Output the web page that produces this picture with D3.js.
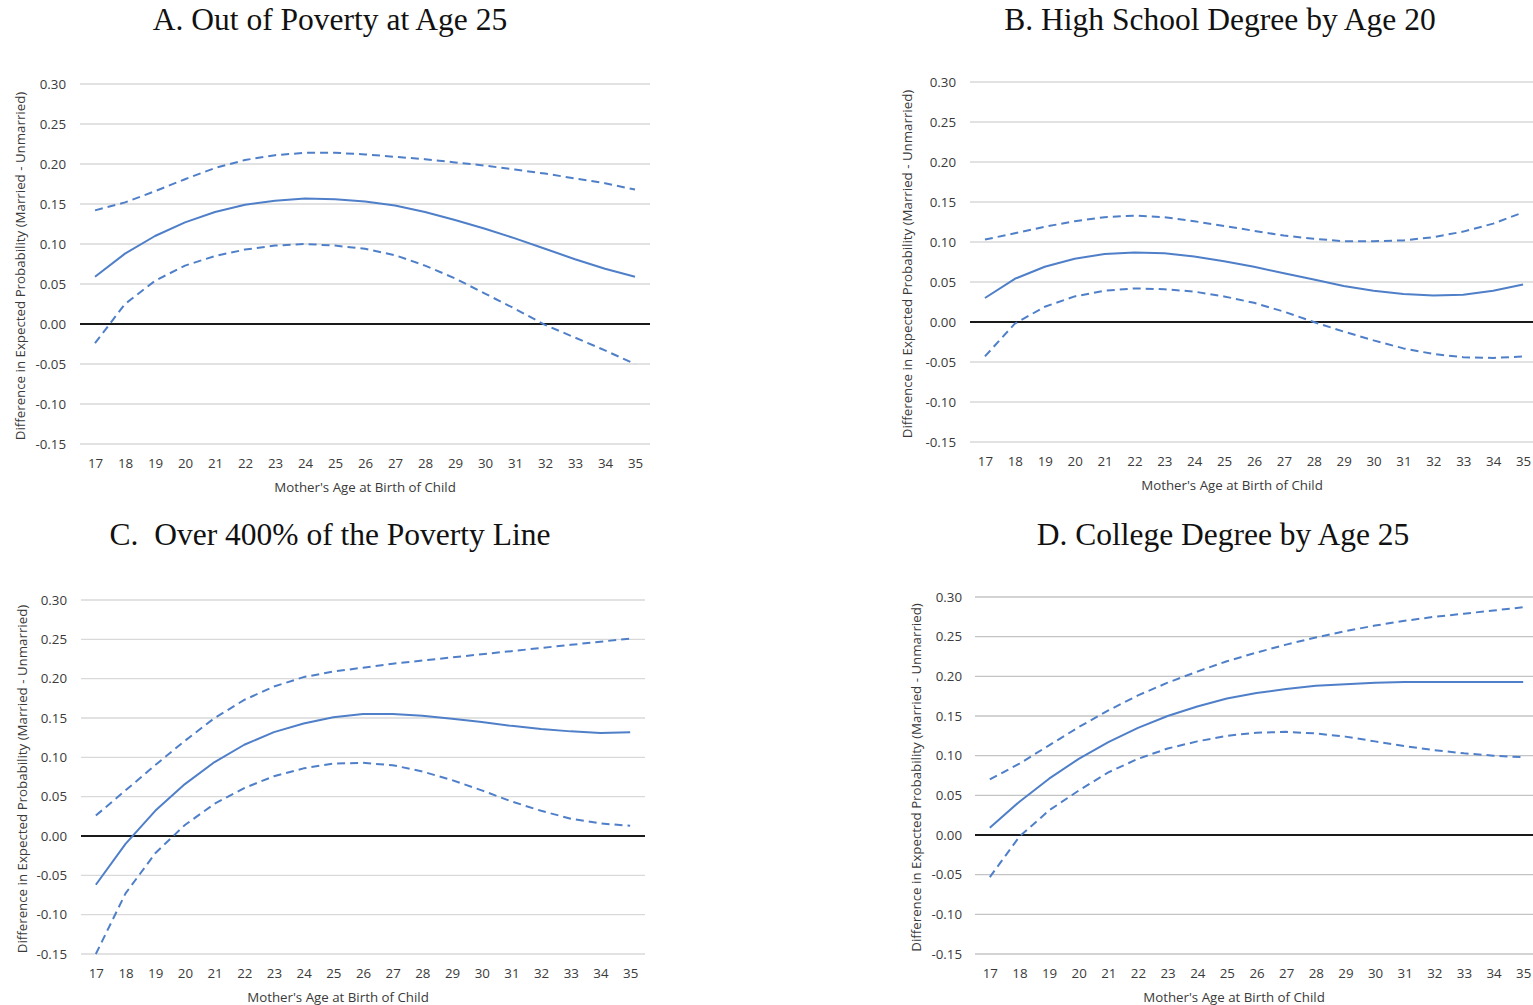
<!DOCTYPE html>
<html>
<head>
<meta charset="utf-8">
<script src="https://cdn.jsdelivr.net/npm/d3@7"></script>
<style>
  html, body { margin: 0; padding: 0; background: #fff; }
  svg { display: block; }
</style>
</head>
<body>
<svg id="chart" width="1533" height="1005"></svg>
<script>
// Mother's age at birth of child (x categories)
const ages = [17, 18, 19, 20, 21, 22, 23, 24, 25, 26, 27, 28, 29, 30, 31, 32, 33, 34, 35];
const yTicks = [0.30, 0.25, 0.20, 0.15, 0.10, 0.05, 0.00, -0.05, -0.10, -0.15];

const titleA = "A. Out of Poverty at Age 25";
const titleB = "B. High School Degree by Age 20";
const titleC = "C.\u00a0 Over 400% of the Poverty Line";
const titleD = "D. College Degree by Age 25";
const yTitle = "Difference in Expected Probability (Married - Unmarried)";
const xTitle = "Mother's Age at Birth of Child";

// A. Out of poverty at age 25
const povEst   = [0.059, 0.088, 0.110, 0.127, 0.140, 0.149, 0.154, 0.157, 0.156, 0.153, 0.148, 0.140, 0.130, 0.119, 0.107, 0.094, 0.081, 0.069, 0.059];
const povUpper = [0.142, 0.152, 0.166, 0.181, 0.195, 0.205, 0.211, 0.214, 0.214, 0.212, 0.209, 0.206, 0.202, 0.198, 0.193, 0.188, 0.182, 0.176, 0.168];
const povLower = [-0.024, 0.025, 0.054, 0.073, 0.085, 0.093, 0.098, 0.100, 0.098, 0.094, 0.086, 0.073, 0.057, 0.038, 0.019, -0.001, -0.017, -0.033, -0.050];

// B. High school degree by age 20
const hsEst   = [0.030, 0.054, 0.069, 0.079, 0.085, 0.087, 0.086, 0.082, 0.076, 0.069, 0.061, 0.053, 0.045, 0.039, 0.035, 0.033, 0.034, 0.039, 0.047];
const hsUpper = [0.103, 0.111, 0.119, 0.126, 0.131, 0.133, 0.131, 0.126, 0.120, 0.114, 0.108, 0.104, 0.101, 0.101, 0.102, 0.106, 0.113, 0.123, 0.137];
const hsLower = [-0.043, -0.002, 0.019, 0.032, 0.039, 0.042, 0.041, 0.038, 0.032, 0.024, 0.013, 0.000, -0.012, -0.023, -0.033, -0.040, -0.044, -0.045, -0.043];

// C. Over 400% of the poverty line
const richEst   = [-0.062, -0.010, 0.032, 0.066, 0.094, 0.116, 0.132, 0.143, 0.151, 0.155, 0.155, 0.153, 0.149, 0.145, 0.140, 0.136, 0.133, 0.131, 0.132];
const richUpper = [0.026, 0.058, 0.090, 0.121, 0.150, 0.173, 0.190, 0.202, 0.209, 0.214, 0.219, 0.223, 0.227, 0.231, 0.235, 0.239, 0.243, 0.247, 0.251];
const richLower = [-0.150, -0.073, -0.022, 0.014, 0.041, 0.061, 0.076, 0.086, 0.092, 0.093, 0.090, 0.082, 0.071, 0.058, 0.044, 0.032, 0.022, 0.016, 0.013];

// D. College degree by age 25
const colEst   = [0.009, 0.042, 0.071, 0.096, 0.117, 0.135, 0.150, 0.162, 0.172, 0.179, 0.184, 0.188, 0.190, 0.192, 0.193, 0.193, 0.193, 0.193, 0.193];
const colUpper = [0.070, 0.090, 0.113, 0.136, 0.157, 0.176, 0.192, 0.206, 0.219, 0.230, 0.240, 0.249, 0.257, 0.264, 0.270, 0.275, 0.279, 0.283, 0.287];
const colLower = [-0.053, -0.002, 0.031, 0.056, 0.079, 0.096, 0.109, 0.118, 0.125, 0.129, 0.130, 0.128, 0.124, 0.118, 0.112, 0.107, 0.103, 0.100, 0.098];

// Panel layout: plot box (x0..x1, yTop = 0.30, yBot = -0.15) and text anchors
const panels = [
  { title: titleA, est: povEst,  upper: povUpper,  lower: povLower,
    x0: 80,  x1: 650,  yTop: 84,  yBot: 444, titleX: 330,  titleY: 30,
    tickLabelX: 66,  yTitleX: 25,  xTitleX: 365,  grid: "#d9d9d9" },
  { title: titleB, est: hsEst,   upper: hsUpper,   lower: hsLower,
    x0: 970, x1: 1538, yTop: 82,  yBot: 442, titleX: 1220, titleY: 30,
    tickLabelX: 956, yTitleX: 912, xTitleX: 1232, grid: "#d9d9d9" },
  { title: titleC, est: richEst, upper: richUpper, lower: richLower,
    x0: 81,  x1: 645,  yTop: 600, yBot: 954, titleX: 330,  titleY: 545,
    tickLabelX: 67,  yTitleX: 27,  xTitleX: 338,  grid: "#d9d9d9" },
  { title: titleD, est: colEst,  upper: colUpper,  lower: colLower,
    x0: 975, x1: 1538, yTop: 597, yBot: 954, titleX: 1223, titleY: 545,
    tickLabelX: 962, yTitleX: 921, xTitleX: 1234, grid: "#c4c4c4" }
];

const svg = d3.select("#chart");
const lineColor = "#4f7fc8";
const labelFont = "'Open Sans', 'Noto Sans', sans-serif";
const labelSize = 13.3;
const labelColor = "#3a3a3a";
// Hyphen-minus for negative tick values
const fmt = v => d3.format(".2f")(v).replace("\u2212", "-");

panels.forEach(p => {
  const x = d3.scalePoint().domain(ages).range([p.x0, p.x1]).padding(0.5);
  const y = d3.scaleLinear().domain([-0.15, 0.30]).range([p.yBot, p.yTop]);
  const g = svg.append("g");

  // Horizontal gridlines
  g.selectAll("line.grid")
    .data(yTicks.filter(v => Math.abs(v) > 1e-9))
    .join("line")
    .attr("x1", p.x0).attr("x2", p.x1)
    .attr("y1", d => y(d)).attr("y2", d => y(d))
    .attr("stroke", p.grid).attr("stroke-width", 1.3);

  // Zero baseline
  g.append("line")
    .attr("x1", p.x0).attr("x2", p.x1)
    .attr("y1", y(0)).attr("y2", y(0))
    .attr("stroke", "#1a1a1a").attr("stroke-width", 2);

  // Y axis labels
  const yAxis = d3.axisLeft(y).tickValues(yTicks).tickFormat(fmt).tickSize(0).tickPadding(0);
  const ya = g.append("g").attr("transform", `translate(${p.tickLabelX},0)`).call(yAxis);
  ya.select(".domain").remove();
  ya.selectAll("text").attr("font-family", labelFont).attr("font-size", labelSize).attr("fill", labelColor);

  // X axis labels
  const xAxis = d3.axisBottom(x).tickSize(0).tickPadding(0);
  const xa = g.append("g").attr("transform", `translate(0,${p.yBot + 15})`).call(xAxis);
  xa.select(".domain").remove();
  xa.selectAll("text").attr("font-family", labelFont).attr("font-size", labelSize).attr("fill", labelColor);

  // Axis titles
  g.append("text")
    .attr("x", p.xTitleX)
    .attr("y", p.yBot + 48)
    .attr("text-anchor", "middle")
    .attr("font-family", labelFont).attr("font-size", labelSize).attr("fill", labelColor)
    .text(xTitle);

  g.append("text")
    .attr("transform", `translate(${p.yTitleX},${(p.yTop + p.yBot) / 2 + 2}) rotate(-90)`)
    .attr("text-anchor", "middle")
    .attr("font-family", labelFont).attr("font-size", labelSize).attr("fill", labelColor)
    .text(yTitle);

  // Panel title
  svg.append("text")
    .attr("x", p.titleX).attr("y", p.titleY)
    .attr("text-anchor", "middle")
    .attr("font-family", "'Liberation Serif', 'Times New Roman', serif")
    .attr("font-size", 31.5).attr("fill", "#111")
    .text(p.title);

  // Estimate and confidence bounds
  const line = d3.line().x((d, i) => x(ages[i])).y(d => y(d));
  [[p.upper, "8,5"], [p.lower, "8,5"], [p.est, null]].forEach(([vals, dash]) => {
    g.append("path")
      .datum(vals)
      .attr("d", line)
      .attr("fill", "none")
      .attr("stroke", lineColor)
      .attr("stroke-width", 2)
      .attr("stroke-linejoin", "round")
      .attr("stroke-dasharray", dash);
  });
});
</script>
</body>
</html>
